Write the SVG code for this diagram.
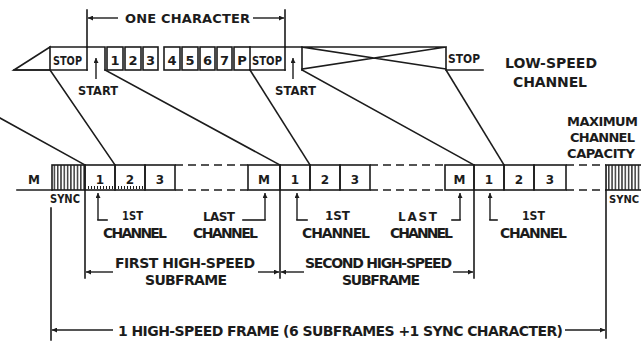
<svg xmlns="http://www.w3.org/2000/svg" width="641" height="343" viewBox="0 0 641 343">
<style>
  .ln{stroke:#1c1c1c;stroke-width:1.6;fill:none;stroke-linecap:square}
  .box{stroke:#1c1c1c;stroke-width:1.6;fill:none}
  .dash{stroke:#1c1c1c;stroke-width:1.6;fill:none;stroke-dasharray:8 5}
  .arr{stroke:#1c1c1c;stroke-width:1.4;fill:none;marker-end:url(#ah)}
  text{font-family:"DejaVu Sans","Liberation Sans",sans-serif;font-weight:bold;fill:#1c1c1c}
  .s{font-size:12px}
  .m{font-size:13px}
  .l{font-size:14px}
</style>
<defs>
  <marker id="ah" viewBox="0 0 10 10" refX="10" refY="5" markerWidth="8" markerHeight="5" markerUnits="userSpaceOnUse" orient="auto">
    <path d="M0,0 L10,5 L0,10 Z" fill="#1c1c1c"/>
  </marker>
  <pattern id="hatch" width="3.3" height="30" patternUnits="userSpaceOnUse">
    <line x1="1.6" y1="0" x2="1.6" y2="30" stroke="#1c1c1c" stroke-width="1.3"/>
  </pattern>
</defs>

<!-- Low-speed channel -->
<g id="low-speed-channel">
  <polygon class="box" points="14,70 50,47 50,70"/>
  <path class="ln" d="M14,70 H87 M50,47 H87"/>
  <text class="s" x="53" y="65" textLength="29" lengthAdjust="spacingAndGlyphs">STOP</text>
  <path class="ln" d="M87,70 V47 H105 V70"/>
  <rect class="box" x="107" y="47" width="16" height="23"/>
  <rect class="box" x="125" y="47" width="16" height="23"/>
  <rect class="box" x="143" y="47" width="15" height="23"/>
  <rect class="box" x="164" y="47" width="16" height="23"/>
  <rect class="box" x="182" y="47" width="16" height="23"/>
  <rect class="box" x="200" y="47" width="15" height="23"/>
  <rect class="box" x="217" y="47" width="15" height="23"/>
  <rect class="box" x="234" y="47" width="16" height="23"/>
  <g class="m" text-anchor="middle">
    <text x="115" y="65">1</text>
    <text x="133" y="65">2</text>
    <text x="150.5" y="65">3</text>
    <text x="172" y="65">4</text>
    <text x="190" y="65">5</text>
    <text x="207.5" y="65">6</text>
    <text x="224.5" y="65">7</text>
    <text x="242" y="65">P</text>
  </g>
  <path class="ln" d="M250,70 H285 M250,47 H285"/>
  <text class="s" x="252" y="65" textLength="30" lengthAdjust="spacingAndGlyphs">STOP</text>
  <path class="ln" d="M285,70 V47 H302 V70"/>
  <path class="ln" d="M302,47 H446 V70 M302,47 L446,69 M302,69 L446,47 M446,70 H483"/>
  <text class="s" x="448" y="63" textLength="32" lengthAdjust="spacingAndGlyphs">STOP</text>
  <line class="arr" x1="96" y1="79" x2="96" y2="58"/>
  <text class="s" x="78" y="95" textLength="40" lengthAdjust="spacingAndGlyphs">START</text>
  <line class="arr" x1="293" y1="79" x2="293" y2="58"/>
  <text class="s" x="275" y="95" textLength="41" lengthAdjust="spacingAndGlyphs">START</text>
  <text class="l" x="505" y="68" textLength="92" lengthAdjust="spacing">LOW-SPEED</text>
  <text class="l" x="513" y="87" textLength="74" lengthAdjust="spacing">CHANNEL</text>
</g>

<!-- One character dimension -->
<g id="one-character">
  <path class="ln" d="M87,10 V47 M285,10 V47"/>
  <line class="arr" x1="118" y1="18" x2="88" y2="18"/>
  <line class="arr" x1="253" y1="18" x2="284" y2="18"/>
  <text class="m" x="125" y="23" textLength="125" lengthAdjust="spacing">ONE CHARACTER</text>
</g>

<!-- High-speed channel -->
<g id="high-speed-channel">
  <path class="ln" d="M17,190 H52"/>
  <text class="s" x="34" y="184" text-anchor="middle">M</text>
  <rect x="52" y="165" width="33" height="25" fill="url(#hatch)" stroke="#1c1c1c" stroke-width="1.6"/>
  <text class="s" x="50" y="203" textLength="30" lengthAdjust="spacingAndGlyphs">SYNC</text>
  <rect class="box" x="85" y="165" width="30" height="25"/>
  <rect class="box" x="115" y="165" width="30" height="25"/>
  <rect class="box" x="145" y="165" width="30" height="25"/>
  <line x1="88" y1="187.5" x2="144" y2="187.5" stroke="#1c1c1c" stroke-width="3" stroke-dasharray="1 2"/>
  <path class="dash" d="M175,165 H248 M175,190 H248"/>
  <rect class="box" x="248" y="165" width="32" height="25"/>
  <rect class="box" x="280" y="165" width="30" height="25"/>
  <rect class="box" x="310" y="165" width="30" height="25"/>
  <rect class="box" x="340" y="165" width="30" height="25"/>
  <path class="dash" d="M370,165 H445 M370,190 H445"/>
  <rect class="box" x="445" y="165" width="29" height="25"/>
  <rect class="box" x="474" y="165" width="30" height="25"/>
  <rect class="box" x="504" y="165" width="30" height="25"/>
  <rect class="box" x="534" y="165" width="32" height="25"/>
  <path class="dash" d="M566,165 H606 M566,190 H606"/>
  <rect x="606" y="165" width="40" height="25" fill="url(#hatch)" stroke="#1c1c1c" stroke-width="1.6"/>
  <text x="609" y="203" style="font-size:10px">SYNC</text>
  <g class="s" text-anchor="middle">
    <text x="100" y="184">1</text>
    <text x="130" y="184">2</text>
    <text x="160" y="184">3</text>
    <text x="264" y="184">M</text>
    <text x="295" y="184">1</text>
    <text x="325" y="184">2</text>
    <text x="355" y="184">3</text>
    <text x="459.5" y="184">M</text>
    <text x="489" y="184">1</text>
    <text x="519" y="184">2</text>
    <text x="550" y="184">3</text>
  </g>
  <text class="m" x="567" y="126" textLength="71" lengthAdjust="spacing">MAXIMUM</text>
  <text class="m" x="570" y="142" textLength="65" lengthAdjust="spacing">CHANNEL</text>
  <text class="m" x="567" y="158" textLength="68" lengthAdjust="spacing">CAPACITY</text>
</g>

<!-- Channel labels -->
<g id="channel-labels">
  <line class="arr" x1="98" y1="220" x2="98" y2="193"/>
  <path class="ln" d="M98,220 H107"/>
  <text class="s" x="122" y="220" textLength="21" lengthAdjust="spacingAndGlyphs">1ST</text>
  <text class="l" x="103" y="238" textLength="64" lengthAdjust="spacing">CHANNEL</text>
  <text class="s" x="203" y="221" textLength="32" lengthAdjust="spacing">LAST</text>
  <path class="ln" d="M243,220 H265"/>
  <line class="arr" x1="265" y1="220" x2="265" y2="193"/>
  <text class="l" x="193" y="238" textLength="65" lengthAdjust="spacing">CHANNEL</text>

  <line class="arr" x1="297" y1="220" x2="297" y2="193"/>
  <path class="ln" d="M297,220 H307"/>
  <text class="s" x="325" y="220" textLength="25" lengthAdjust="spacingAndGlyphs">1ST</text>
  <text class="l" x="302" y="238" textLength="68" lengthAdjust="spacing">CHANNEL</text>
  <text class="s" x="398" y="221" textLength="39" lengthAdjust="spacing">LAST</text>
  <path class="ln" d="M452,220 H460"/>
  <line class="arr" x1="460" y1="220" x2="460" y2="193"/>
  <text class="l" x="390" y="238" textLength="63" lengthAdjust="spacing">CHANNEL</text>

  <line class="arr" x1="490" y1="220" x2="490" y2="193"/>
  <path class="ln" d="M490,220 H497"/>
  <text class="s" x="522" y="220" textLength="23" lengthAdjust="spacingAndGlyphs">1ST</text>
  <text class="l" x="500" y="238" textLength="67" lengthAdjust="spacing">CHANNEL</text>
</g>

<!-- Subframe and frame dimensions -->
<g id="dimensions">
  <path class="ln" d="M51,208 V340 M85,190 V278 M280,190 V278 M474,190 V278 M606,190 V338"/>
  <line class="arr" x1="113" y1="272" x2="86" y2="272"/>
  <line class="arr" x1="258" y1="272" x2="279" y2="272"/>
  <text class="l" x="115" y="268" textLength="140" lengthAdjust="spacing">FIRST HIGH-SPEED</text>
  <text class="l" x="145" y="285" textLength="82" lengthAdjust="spacing">SUBFRAME</text>
  <line class="arr" x1="304" y1="272" x2="281" y2="272"/>
  <line class="arr" x1="453" y1="272" x2="473" y2="272"/>
  <text class="l" x="305" y="268" textLength="147" lengthAdjust="spacing">SECOND HIGH-SPEED</text>
  <text class="l" x="342" y="285" textLength="78" lengthAdjust="spacing">SUBFRAME</text>
  <line class="arr" x1="113" y1="330" x2="52" y2="330"/>
  <line class="arr" x1="565" y1="330" x2="605" y2="330"/>
  <text class="l" x="118" y="336" textLength="445" lengthAdjust="spacing">1 HIGH-SPEED FRAME (6 SUBFRAMES +1 SYNC CHARACTER)</text>
</g>

<!-- Connectors -->
<g id="connectors">
  <line class="ln" x1="0" y1="118" x2="85" y2="165"/>
  <line class="ln" x1="50" y1="70" x2="115" y2="165"/>
  <line class="ln" x1="105" y1="70" x2="280" y2="165"/>
  <line class="ln" x1="250" y1="70" x2="310" y2="165"/>
  <line class="ln" x1="302" y1="70" x2="474" y2="165"/>
  <line class="ln" x1="446" y1="70" x2="504" y2="165"/>
</g>
</svg>
